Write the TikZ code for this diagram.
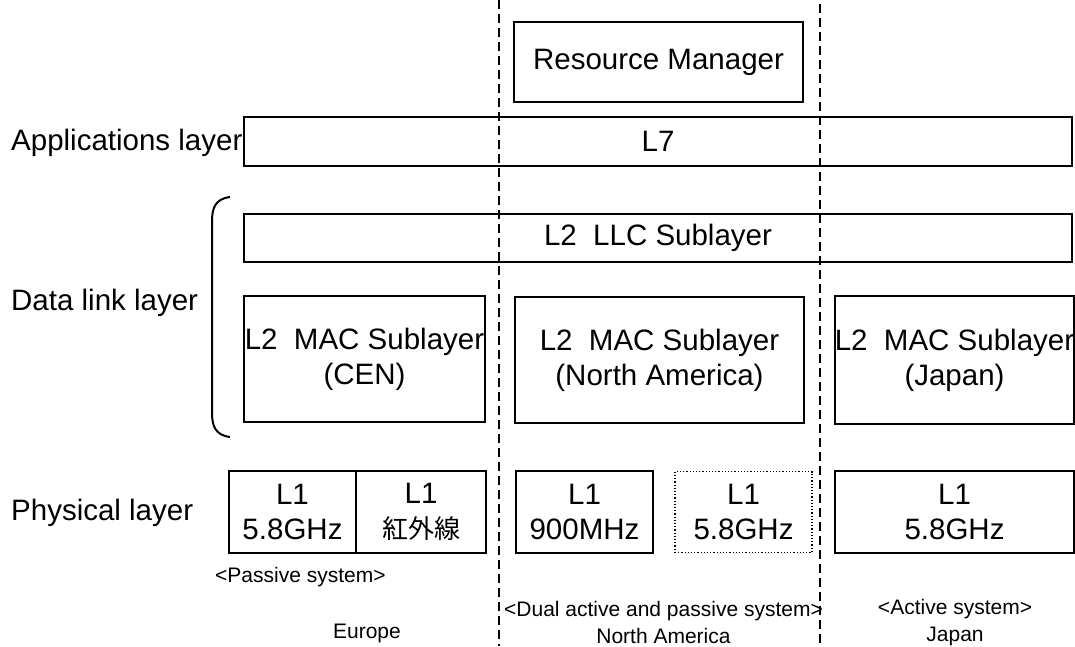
\documentclass[tikz,border=0pt]{standalone}
\usepackage{fontspec}
\setmainfont{Liberation Sans}
\newfontfamily\jpfont{Noto Sans CJK JP}
\usetikzlibrary{positioning}

\begin{document}
\begin{tikzpicture}[
    x=1pt, y=-1pt,
    font=\fontsize{29.5}{35}\selectfont,
    box/.style={draw, line width=2pt, inner sep=0pt, align=center},
    dotbox/.style={draw, dotted, line width=1.2pt, inner sep=0pt, align=center},
    lbl/.style={inner sep=0pt, anchor=west},
    note/.style={inner sep=0pt, align=center, font=\fontsize{21}{27}\selectfont},
    sep/.style={line width=2.4pt, dash pattern=on 9pt off 5pt},
]
\useasboundingbox (0,0) rectangle (1075,646);

% ============ regions (dashed borders) ============
\coordinate (sepLtop) at (499,0);
\coordinate (sepLbot) at (499,646);
\coordinate (sepRtop) at (820,4);
\coordinate (sepRbot) at (820,646);
\draw[sep] (sepLtop) -- (sepLbot);
\draw[sep] (sepRtop) -- (sepRbot);

% ============ top: manager + L7 ============
\node[box, minimum width=289pt, minimum height=80pt] (rm) at (658.5,62) {Resource Manager};
\node[box, minimum width=828pt, minimum height=49pt] (l7) at (658,141.5) {L7};
\node[lbl] (app) at (11,143) {Applications layer};

% ============ data link layer ============
\node[box, minimum width=828pt, minimum height=48pt] (llc) at (658,238) {L2\ \ LLC Sublayer};
\node[box, minimum width=241pt, minimum height=126pt] (macEU) at (364.5,359) {L2\ \ MAC Sublayer\\(CEN)};
\node[box, minimum width=289pt, minimum height=126pt] (macNA) at (659.5,360) {L2\ \ MAC Sublayer\\(North America)};
\node[box, minimum width=237pt, minimum height=128pt] (macJP) at (954.5,360) {L2\ \ MAC Sublayer\\(Japan)};
\node[lbl] (dll) at (11,303) {Data link layer};
% brace round the two sublayers
\draw[line width=2pt] (230,197) .. controls (215,199) and (212,208) .. (212,222)
    -- (212,412) .. controls (212,426) and (215,435) .. (230,437);

% ============ physical layer ============
\node[box, minimum width=127pt, minimum height=82pt] (phyEUa) at (292.5,512) {L1\\5.8GHz};
\node[box, minimum width=130pt, minimum height=82pt] (phyEUb) at (421,512) {L1\\{\jpfont\fontsize{26}{35}\selectfont 紅外線}};
\node[box, minimum width=137pt, minimum height=82pt] (phyNAa) at (584.5,512) {L1\\900MHz};
\node[dotbox, minimum width=137pt, minimum height=81pt] (phyNAb) at (743.5,512) {L1\\5.8GHz};
\node[box, minimum width=239pt, minimum height=82pt] (phyJP) at (954.5,512) {L1\\5.8GHz};
\node[lbl] (phy) at (11,513) {Physical layer};

% ============ systems / regions ============
\node[note, anchor=west] (pas) at (215,577) {<Passive system>};
\node[note] (eu) at (367,633) {Europe};
\node[note] (na) at (663.5,622) {<Dual active and passive system>\\North America};
\node[note] (jp) at (955,622.5) {<Active system>\\Japan};

\end{tikzpicture}
\end{document}
